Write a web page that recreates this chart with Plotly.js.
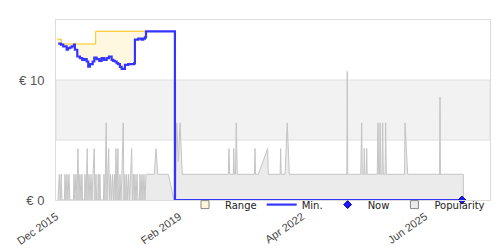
<!DOCTYPE html>
<html>
<head>
<meta charset="utf-8">
<script src="https://cdn.plot.ly/plotly-3.0.1.min.js"></script>
<style>
html,body{margin:0;padding:0;background:#fff;}
#chart{width:500px;height:250px;}
</style>
</head>
<body>
<div id="chart"></div>
<script>
// ---- Data ----
var minDates = ['2015-12-22','2016-01-16','2016-02-07','2016-03-10','2016-03-22','2016-04-10','2016-04-26','2016-05-18','2016-05-27','2016-06-18','2016-07-13','2016-08-04','2016-08-23','2016-09-14','2016-09-29','2016-10-15','2016-11-10','2016-11-25','2016-12-17','2017-01-11','2017-02-02','2017-02-24','2017-03-21','2017-04-12','2017-05-07','2017-05-22','2017-06-07','2017-06-23','2017-07-08','2017-07-24','2017-08-09','2017-09-09','2017-10-10','2017-11-11','2017-12-06','2017-12-12','2018-01-12','2018-02-13','2018-02-28','2018-03-16','2018-03-26','2018-12-23','2026-05-13'];
var minValues = [13.03,12.94,12.8,12.52,12.66,12.71,12.8,12.94,12.52,11.96,11.82,11.68,11.74,11.54,11.12,11.32,11.54,11.87,11.74,11.6,11.82,11.68,11.82,11.96,11.68,11.6,11.54,11.4,11.32,11.1,10.92,11.26,11.32,11.32,11.4,13.37,13.45,13.37,13.45,13.55,14.06,0,0];
var rangeEndIndex = 41; // range band spans the first 41 min points

var maxDates = ['2015-12-12','2016-01-20','2016-12-08','2018-03-26'];
var maxValues = [13.4,13.0,14.06,14.06];

var nowDate = ['2026-05-13'];
var nowValue = [0];

var popDates = ['2015-12-19','2016-01-01','2016-01-10','2016-01-19','2016-01-26','2016-02-18','2016-02-23','2016-03-04','2016-03-13','2016-03-22','2016-04-01','2016-04-10','2016-05-13','2016-05-18','2016-05-27','2016-06-06','2016-06-15','2016-06-24','2016-07-04','2016-07-13','2016-07-23','2016-08-01','2016-08-06','2016-08-25','2016-08-29','2016-09-08','2016-09-20','2016-09-26','2016-10-06','2016-10-15','2016-10-25','2016-11-03','2016-11-13','2016-11-25','2016-12-01','2016-12-11','2016-12-17','2016-12-28','2017-01-01','2017-01-08','2017-01-17','2017-01-22','2017-02-19','2017-02-24','2017-03-05','2017-03-17','2017-03-24','2017-04-09','2017-04-17','2017-04-26','2017-05-05','2017-05-15','2017-05-24','2017-06-02','2017-06-10','2017-06-16','2017-06-26','2017-07-05','2017-07-10','2017-07-19','2017-07-24','2017-08-03','2017-08-12','2017-08-24','2017-08-31','2017-09-09','2017-09-14','2017-09-20','2017-09-25','2017-10-05','2017-10-14','2017-10-23','2017-11-02','2017-11-11','2017-11-19','2017-11-28','2017-12-06','2017-12-12','2017-12-22','2018-01-01','2018-01-09','2018-01-23','2018-01-28','2018-02-07','2018-02-16','2018-02-25','2018-03-07','2018-03-16','2018-03-26','2018-06-12','2018-06-28','2018-07-14','2018-10-22','2018-12-14','2018-12-30','2019-01-09','2019-01-24','2019-02-09','2019-03-02','2020-05-08','2020-05-14','2020-05-21','2020-06-24','2020-06-28','2020-07-03','2020-07-14','2020-07-22','2020-07-31','2021-01-09','2021-01-14','2021-01-18','2021-02-14','2021-05-13','2021-05-19','2021-09-07','2021-09-12','2021-09-17','2021-10-23','2021-11-13','2021-12-02','2023-05-27','2023-05-31','2023-06-05','2023-10-05','2023-10-14','2023-10-19','2023-11-03','2023-11-07','2023-11-12','2023-11-25','2023-11-30','2023-12-04','2024-03-08','2024-03-15','2024-03-21','2024-03-29','2024-04-04','2024-04-11','2024-04-21','2024-04-28','2024-05-04','2024-05-21','2024-05-26','2024-06-01','2024-11-20','2024-11-24','2024-12-19','2025-10-15','2025-10-19','2025-10-23','2026-05-26','2026-05-27'];
var popValues = [0,1,0,1,0,0,1,0,1,0,1,0,0,1,0,1,0,2,0,1,0,1,0,0,1,0,2,0,1,0,1,0,1,2,0,1,0,0,1,0,1,0,0,1,0,3,0,2,0,1,0,1,0,1,0,2,0,2,0,0,1,0,1,3,0,1,0,0,1,0,1,0,1,2,0,1,0,1,0,1,0,0,1,0,1,0,1,0,1,1,2,1,1,0,0,3,1.5,3,1,1,2,1,1,2,1,1,3,1,1,2,1,1,2,1,1,2,1,1,3,1,1,5,1,1,3,1,1,2,1,1,2,1,1,3,1,1,3,1,1,3,1,1,3,1,1,3,1,1,4,1,1,0];

var xTickVals = ['2015-12-01','2019-02-01','2022-04-01','2025-06-01'];
var xTickText = ['Dec 2015','Feb 2019','Apr 2022','Jun 2025'];
var yTickVals = [0,10];
var yTickText = ['€ 0','€ 10'];
var bandLow = 5, bandHigh = 10;

var traces = [
  {x: popDates, y: popValues, yaxis: 'y', type: 'scatter', mode: 'lines',
   line: {color: '#c4c4c4', width: 1}, fill: 'tozeroy', fillcolor: 'rgba(205,205,205,0.4)',
   showlegend: false, hoverinfo: 'skip'},
  {x: minDates.slice(0, rangeEndIndex), y: minValues.slice(0, rangeEndIndex), yaxis: 'y2', type: 'scatter', mode: 'lines',
   line: {color: 'rgba(0,0,0,0)', width: 0, shape: 'hv'}, showlegend: false, hoverinfo: 'skip'},
  {x: maxDates, y: maxValues, yaxis: 'y2', type: 'scatter', mode: 'lines',
   line: {color: '#ffc20e', width: 1, shape: 'hv'}, fill: 'tonexty', fillcolor: 'rgba(255,222,120,0.22)',
   showlegend: false, hoverinfo: 'skip'},
  {x: [null], y: [null], yaxis: 'y2', type: 'scatter', mode: 'markers', name: 'Range',
   marker: {symbol: 'square', size: 8, color: '#fff6dc', line: {color: '#888', width: 1}}},
  {x: minDates, y: minValues, yaxis: 'y2', type: 'scatter', mode: 'lines', name: 'Min.',
   line: {color: '#3535ff', width: 2.2, shape: 'hv'}},
  {x: nowDate, y: nowValue, yaxis: 'y2', type: 'scatter', mode: 'markers', name: 'Now',
   cliponaxis: false,
   marker: {symbol: 'diamond', size: 6, color: '#1a1aff', line: {color: '#000080', width: 1}}},
  {x: [null], y: [null], yaxis: 'y2', type: 'scatter', mode: 'markers', name: 'Popularity',
   marker: {symbol: 'square', size: 8, color: '#ececec', line: {color: '#888', width: 1}}}
];

var layout = {
  width: 500, height: 250,
  margin: {l: 56, r: 10, t: 20, b: 50},
  paper_bgcolor: '#fff', plot_bgcolor: '#fff',
  font: {family: 'Liberation Sans, Arial, sans-serif', size: 11, color: '#444'},
  showlegend: true,
  legend: {orientation: 'h', traceorder: 'normal', x: 1, xanchor: 'right', y: 0.055, yanchor: 'top',
           bgcolor: 'rgba(0,0,0,0)', font: {family: 'DejaVu Sans', size: 10, color: '#222'},
           itemclick: false},
  xaxis: {type: 'date', range: ['2015-12-01', '2027-02-01'],
          tickvals: xTickVals, ticktext: xTickText, tickangle: -35,
          ticklabelstandoff: 5,
          tickfont: {size: 11, color: '#444'}, showgrid: false, zeroline: false,
          showline: true, mirror: true, linecolor: '#dcdcdc', ticks: ''},
  yaxis: {range: [0, 7], visible: false, fixedrange: true},
  yaxis2: {overlaying: 'y', side: 'left', range: [0, 15],
           tickvals: yTickVals, ticktext: yTickText, tickfont: {size: 13, color: '#555'},
           ticklabelstandoff: 8,
           showgrid: false, zeroline: false, showline: true, mirror: true, linecolor: '#dcdcdc', ticks: ''},
  shapes: [
    {type: 'rect', xref: 'paper', yref: 'y2', x0: 0, x1: 1, y0: bandLow, y1: bandHigh,
     fillcolor: '#f2f2f2', line: {color: '#e0e0e0', width: 1}, layer: 'below'}
  ]
};

Plotly.newPlot('chart', traces, layout, {staticPlot: true, displayModeBar: false});
</script>
</body>
</html>
